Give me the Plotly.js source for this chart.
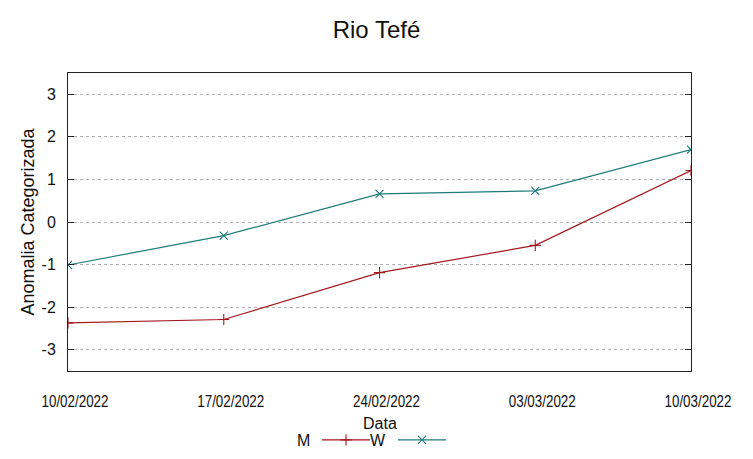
<!DOCTYPE html>
<html>
<head>
<meta charset="utf-8">
<script src="https://cdn.plot.ly/plotly-3.0.1.min.js"></script>
<style>html,body{margin:0;padding:0;background:#fff;}#chart{width:753px;height:459px;}</style>
</head>
<body>
<div id="chart"></div>
<script>
const dates = ["10/02/2022", "17/02/2022", "24/02/2022", "03/03/2022", "10/03/2022"];
const seriesM = [-2.37, -2.29, -1.19, -0.55, 1.21];
const seriesW = [-1.01, -0.32, 0.66, 0.73, 1.70];
const yTicks = [-3, -2, -1, 0, 1, 2, 3];
const yTickText = ["-3", "-2", "-1", "0", "1", "2", "3"];

const colorM = "#a3191f";
const colorW = "#1f7a7a";

const traces = [
  {x: dates, y: seriesM, name: "", type: "scatter", mode: "lines+markers",
   line: {color: colorM, width: 1.2},
   marker: {symbol: "cross-thin", size: 8, line: {color: colorM, width: 1.1}, color: colorM}},
  {x: dates, y: seriesW, name: "", type: "scatter", mode: "lines+markers",
   line: {color: colorW, width: 1.2},
   marker: {symbol: "x-thin", size: 8, line: {color: colorW, width: 1.1}, color: colorW}}
];

const layout = {
  width: 753, height: 459,
  paper_bgcolor: "#fff", plot_bgcolor: "#fff",
  margin: {l: 68, r: 62, t: 73, b: 88},
  font: {family: "Liberation Sans, Arial, sans-serif", color: "#111"},
  title: {text: "Rio Tefé", x: 0.5, xanchor: "center", y: 0.935, yanchor: "middle",
          font: {size: 24, family: "Liberation Sans, Arial, sans-serif", color: "#111"}},
  showlegend: true,
  legend: {orientation: "h", xref: "container", yref: "container",
           x: 317 / 753, xanchor: "left", y: (459 - 440) / 459, yanchor: "middle",
           itemwidth: 48, entrywidth: 13, font: {size: 16}, bgcolor: "rgba(0,0,0,0)",
           traceorder: "normal"},
  xaxis: {
    type: "category", range: [0, 4],
    tickvals: dates, ticktext: dates,
    showgrid: false, zeroline: false,
    showline: true, linecolor: "#222", linewidth: 1, mirror: true,
    ticks: "", ticklabelstandoff: 16,
    tickfont: {size: 16, color: "#111"}
  },
  yaxis: {
    range: [-3.5, 3.5], tickvals: yTicks, ticktext: yTickText,
    showgrid: true, gridcolor: "#b0b0b0", griddash: "dot", gridwidth: 1,
    zeroline: false,
    showline: true, linecolor: "#222", linewidth: 1, mirror: "ticks",
    ticks: "inside", ticklen: 6, tickcolor: "#222",
    ticklabelstandoff: 8,
    tickfont: {size: 16, color: "#111"},
    title: {text: "Anomalia Categorizada", standoff: 2, font: {size: 18, color: "#111"}}
  },
  annotations: [
    {text: "Data", xref: "paper", yref: "paper", x: 0.5, y: -(423 - 371) / 298, xanchor: "center", yanchor: "middle",
     showarrow: false, font: {size: 16, color: "#111"}},
    {text: "M", xref: "paper", yref: "paper", x: (303 - 68) / 623, y: -(440 - 371) / 298, xanchor: "center", yanchor: "middle",
     showarrow: false, font: {size: 16, color: "#111"}},
    {text: "W", xref: "paper", yref: "paper", x: (378 - 68) / 623, y: -(440 - 371) / 298, xanchor: "center", yanchor: "middle",
     showarrow: false, font: {size: 16, color: "#111"}}
  ]
};

Plotly.newPlot("chart", traces, layout, {displayModeBar: false, staticPlot: true}).then(function (gd) {
  gd.querySelectorAll(".xtick text").forEach(function (t) {
    t.setAttribute("textLength", "67");
    t.setAttribute("lengthAdjust", "spacingAndGlyphs");
    t.setAttribute("dx", "7");
  });
});
</script>
</body>
</html>
